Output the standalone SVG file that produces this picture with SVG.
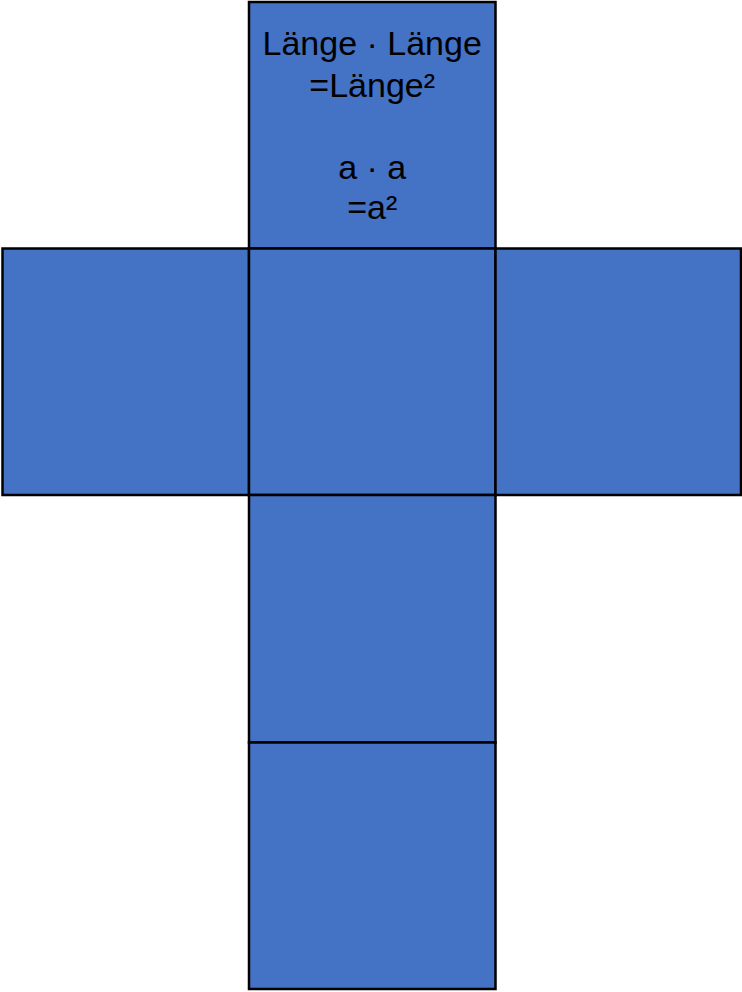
<svg xmlns="http://www.w3.org/2000/svg" width="742" height="992" viewBox="0 0 742 992">
<style>
.face{fill:#4472C4;stroke:#000;stroke-width:2.5}
.lbl{font-family:"Liberation Sans",Arial,sans-serif;font-size:34px;fill:#000;text-anchor:middle}
</style>
<rect width="742" height="992" fill="#fff"/>
<g id="top"><rect class="face" x="249" y="2" width="246.5" height="246.5"/>
<text class="lbl" x="372.2" y="55">Länge · Länge</text>
<text class="lbl" x="372.2" y="96.5">=Länge²</text>
<text class="lbl" x="372.2" y="178.5">a · a</text>
<text class="lbl" x="372.2" y="219">=a²</text>
</g>
<g id="left"><rect class="face" x="2.5" y="248.5" width="246.5" height="246.5"/></g>
<g id="center"><rect class="face" x="249" y="248.5" width="246.5" height="246.5"/></g>
<g id="right"><rect class="face" x="495.5" y="248.5" width="245.5" height="246.5"/></g>
<g id="below1"><rect class="face" x="249" y="495" width="246.5" height="247.5"/></g>
<g id="below2"><rect class="face" x="249" y="742.5" width="246.5" height="246.5"/></g>
<g id="connectors"></g>
</svg>
